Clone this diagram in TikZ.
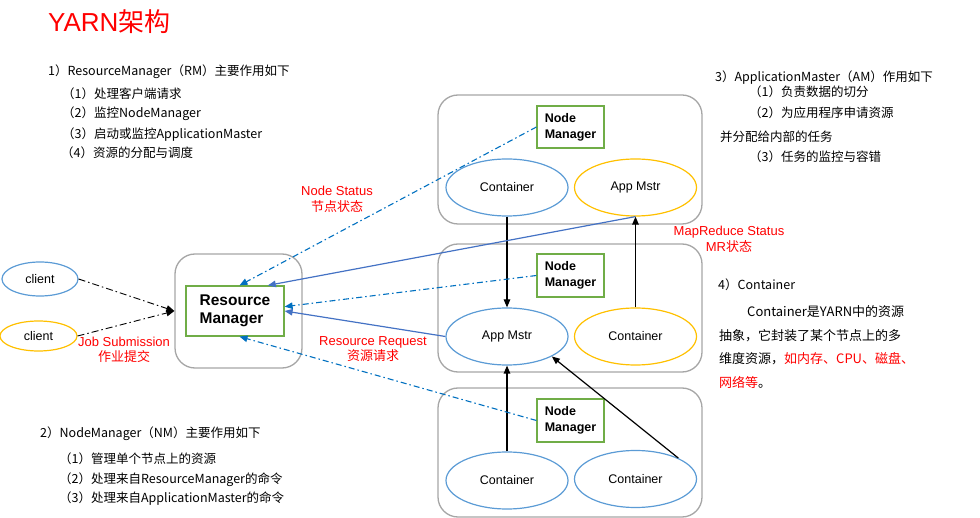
\documentclass[tikz,border=0pt]{standalone}
\usepackage{fontspec}
\setmainfont{Liberation Sans}
\newfontfamily\cjk{Noto Sans CJK SC}
\usetikzlibrary{positioning,shapes.geometric,arrows.meta}
\definecolor{azul}{RGB}{91,155,213}
\definecolor{amarillo}{RGB}{255,192,0}
\definecolor{verde}{RGB}{112,173,71}
\definecolor{gris}{RGB}{166,166,166}
\definecolor{flecha}{RGB}{68,114,196}
\definecolor{punteada}{RGB}{0,112,192}
\definecolor{rojo}{RGB}{255,0,0}

\begin{document}
\begin{tikzpicture}[x=1pt, y=-1pt,
    host/.style={draw=gris, line width=1.3pt, rounded corners=20pt, minimum width=264pt, minimum height=129pt, inner sep=0pt},
    nm/.style={draw=verde, line width=1.2pt, minimum width=67pt, minimum height=43pt, align=left, inner sep=0pt, font=\fontsize{12.5}{16}\selectfont\bfseries},
    elip/.style={ellipse, line width=1.2pt, minimum width=122pt, minimum height=57pt, inner sep=0pt, font=\fontsize{12.5}{15}\selectfont},
    cont/.style={elip, draw=azul},
    mstr/.style={elip, draw=amarillo},
    txt/.style={anchor=base west, inner sep=0pt, font=\cjk\fontsize{12.5}{15}\selectfont},
    etiq/.style={text=rojo, align=center, inner sep=0pt, font=\fontsize{13}{15.5}\selectfont},
    tip/.style={-{Triangle[length=8pt,width=6.5pt]}},
    neg/.style={tip, line width=1.2pt},
    solida/.style={tip, draw=flecha, line width=1.2pt},
    estado/.style={tip, draw=punteada, line width=1.1pt, dash pattern=on 6pt off 3pt on 1.5pt off 3pt},
    trabajo/.style={tip, line width=0.9pt, dash pattern=on 7pt off 3pt on 1.5pt off 3pt}]

    \useasboundingbox (0,0) rectangle (980,518);

    % Titulo
    \node[anchor=base west, inner sep=0pt, text=rojo, font=\fontsize{26}{30}\selectfont] (titulo) at (48,32) {YARN{\cjk 架构}};

    % Clientes y ResourceManager
    \node[ellipse, draw=azul, line width=1.2pt, minimum width=76pt, minimum height=34pt, font=\fontsize{12.5}{15}\selectfont] (cl1) at (40,279) {client};
    \node[ellipse, draw=amarillo, line width=1.2pt, minimum width=77pt, minimum height=30pt, font=\fontsize{12.5}{15}\selectfont] (cl2) at (38.5,336) {client};
    \node[host, minimum width=127pt, minimum height=114pt] (rmbox) at (238.5,311) {};
    \node[nm, minimum width=98pt, minimum height=50pt, font=\fontsize{15.5}{18}\selectfont\bfseries] (rm) at (235,311) {Resource\\Manager};

    % Nodos del cluster
    \node[host] (h1) at (570,159.5) {};
    \node[host, minimum height=128pt] (h2) at (570,308) {};
    \node[host] (h3) at (570,452.5) {};

    \node[nm, minimum height=42pt] (nm1) at (570.5,127) {Node\\Manager};
    \node[nm] (nm2) at (570.5,275.5) {Node\\Manager};
    \node[nm] (nm3) at (570.5,420.5) {Node\\Manager};

    \node[cont] (c1) at (507,187.5) {Container};
    \node[mstr, right of=c1, node distance=128.5pt] (am1) {App Mstr};
    \node[cont] (am2) at (507,336.5) {App Mstr};
    \node[mstr, right of=am2, node distance=128.5pt] (c2) {Container};
    \node[cont] (c3) at (507,480.5) {Container};
    \node[cont] (c4) at (635.5,479) {Container};

    % Conexiones entre contenedores
    \draw[neg] (c1) -- (am2);
    \draw[neg] (c2) -- (am1);
    \draw[neg] (c3) -- (am2);
    \draw[neg] (c4.26) -- (am2.-24);

    % Conexiones hacia el ResourceManager
    \draw[solida] (am1.south) -- (rm.38);
    \draw[solida] (am2.west) -- (rm.east);
    \draw[estado] (nm1.west) -- (rm.80);
    \draw[estado] (nm2.west) -- (rm.5);
    \draw[estado] (nm3.west) -- (rm.-80);
    \draw[trabajo] (cl1.east) -- (rmbox.west);
    \draw[trabajo] (cl2.east) -- (rmbox.west);

    % Etiquetas rojas
    \node[etiq] (lns) at (337,199.5) {Node Status\\{\cjk 节点状态}};
    \node[etiq] (lmr) at (729,239.5) {MapReduce Status\\MR{\cjk 状态}};
    \node[etiq] (lrr) at (373,349) {Resource Request\\{\cjk 资源请求}};
    \node[etiq] (ljs) at (124,350) {Job Submission\\{\cjk 作业提交}};

    % Texto 1) ResourceManager
    \node[txt] (t10) at (48,76) {1）ResourceManager（RM）主要作用如下};
    \node[txt] (t11) at (62,99) {（1）处理客户端请求};
    \node[txt] (t12) at (62,118) {（2）监控NodeManager};
    \node[txt] (t13) at (62,139) {（3）启动或监控ApplicationMaster};
    \node[txt] (t14) at (61,158) {（4）资源的分配与调度};

    % Texto 2) NodeManager
    \node[txt] (t20) at (40,438) {2）NodeManager（NM）主要作用如下};
    \node[txt] (t21) at (59,463) {（1）管理单个节点上的资源};
    \node[txt] (t22) at (59,483) {（2）处理来自ResourceManager的命令};
    \node[txt] (t23) at (59,502) {（3）处理来自ApplicationMaster的命令};

    % Texto 3) ApplicationMaster
    \node[txt] (t30) at (715,82) {3）ApplicationMaster（AM）作用如下};
    \node[txt] (t31) at (749,97) {（1）负责数据的切分};
    \node[txt] (t32) at (749,118) {（2）为应用程序申请资源};
    \node[txt] (t33) at (720,142) {并分配给内部的任务};
    \node[txt] (t34) at (749,162) {（3）任务的监控与容错};

    % Texto 4) Container
    \node[txt] (t40) at (718,290) {4）Container};
    \node[txt, font=\cjk\fontsize{13}{15}\selectfont] (t41) at (747,317) {Container是YARN中的资源};
    \node[txt, font=\cjk\fontsize{13}{15}\selectfont] (t42) at (719,341) {抽象，它封装了某个节点上的多};
    \node[txt, font=\cjk\fontsize{13}{15}\selectfont] (t43) at (719,364) {维度资源，\textcolor{rojo}{如内存、CPU、磁盘、}};
    \node[txt, font=\cjk\fontsize{13}{15}\selectfont] (t44) at (719,388) {\textcolor{rojo}{网络等}。};

\end{tikzpicture}
\end{document}
